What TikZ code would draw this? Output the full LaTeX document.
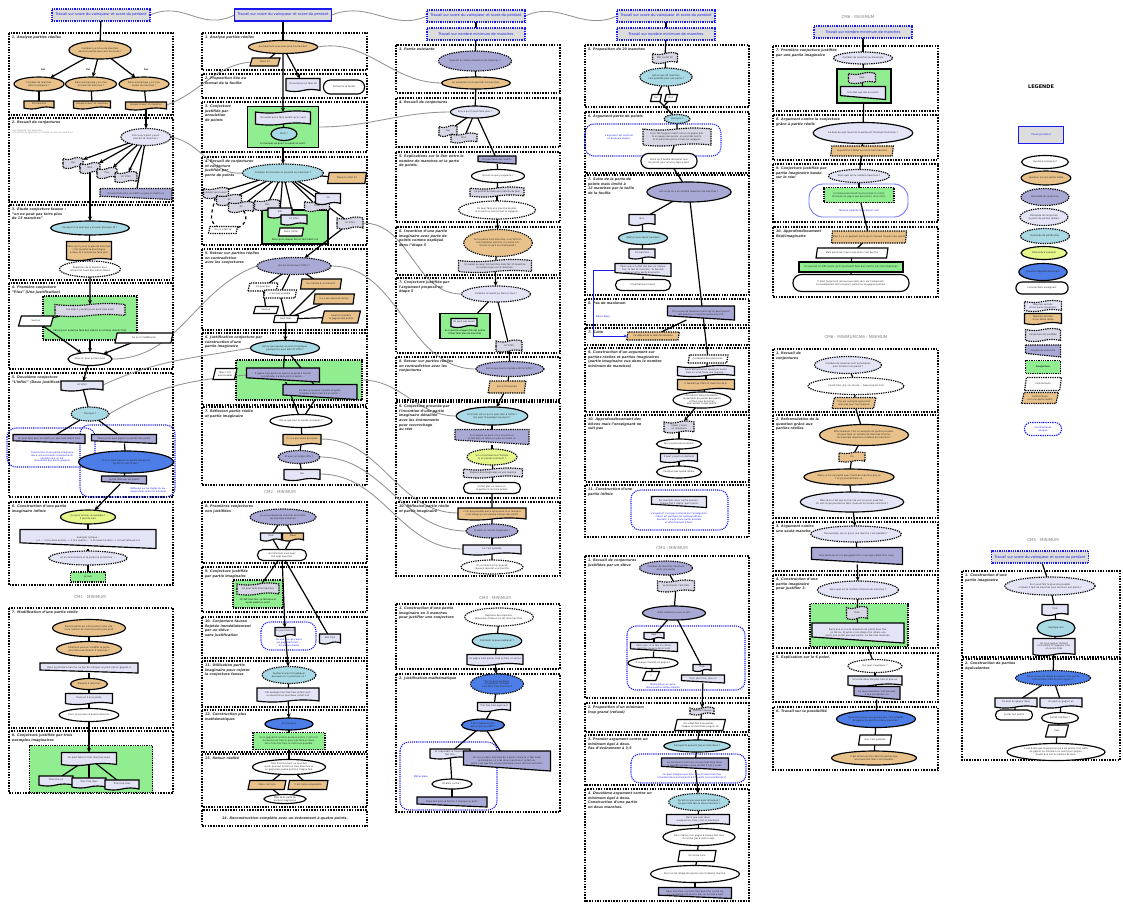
\documentclass[tikz,border=0pt]{standalone}
\usepackage{fontspec}
\setmainfont{DejaVu Sans}
\usetikzlibrary{shapes.geometric,shapes.symbols,shapes.misc,arrows.meta}
\definecolor{ctan}{HTML}{E8C28A}
\definecolor{cperi}{HTML}{A9A9D6}
\definecolor{clav}{HTML}{E4E4F7}
\definecolor{cgl}{HTML}{D7D7E6}
\definecolor{clblue}{HTML}{A9D9E4}
\definecolor{cylw}{HTML}{E6F78C}
\definecolor{crblue}{HTML}{4D7DE6}
\definecolor{cgreen}{HTML}{90EE90}
\definecolor{ctop}{HTML}{DCDCDC}
\definecolor{cbl}{HTML}{1A1AEE}
\definecolor{ctitle}{HTML}{333333}
\pgfdeclarelayer{back}
\pgfdeclarelayer{mid}
\pgfsetlayers{back,mid,main}
\makeatletter
\pgfdeclareshape{slantbox}{%
  \inheritsavedanchors[from=rectangle]%
  \inheritanchorborder[from=rectangle]%
  \inheritanchor[from=rectangle]{center}%
  \inheritanchor[from=rectangle]{north}%
  \inheritanchor[from=rectangle]{south}%
  \inheritanchor[from=rectangle]{east}%
  \inheritanchor[from=rectangle]{west}%
  \inheritanchor[from=rectangle]{north east}%
  \inheritanchor[from=rectangle]{north west}%
  \inheritanchor[from=rectangle]{south east}%
  \inheritanchor[from=rectangle]{south west}%
  \inheritanchor[from=rectangle]{text}%
  \inheritanchor[from=rectangle]{base}%
  \inheritanchor[from=rectangle]{mid}%
  \backgroundpath{%
    \southwest \pgf@xa=\pgf@x \pgf@ya=\pgf@y
    \northeast \pgf@xb=\pgf@x \pgf@yb=\pgf@y
    \pgf@yc=\pgf@yb \advance\pgf@yc by -\pgf@ya
    \pgf@yc=0.3\pgf@yc \advance\pgf@yc by \pgf@ya
    \pgfpathmoveto{\pgfqpoint{\pgf@xa}{\pgf@yb}}%
    \pgfpathlineto{\pgfqpoint{\pgf@xb}{\pgf@yb}}%
    \pgfpathlineto{\pgfqpoint{\pgf@xb}{\pgf@ya}}%
    \pgfpathlineto{\pgfqpoint{\pgf@xa}{\pgf@yc}}%
    \pgfpathclose
  }%
}
\makeatother
\newcommand\txs{\fontsize{2.3}{2.75}\selectfont}
\newcommand\ttls{\fontsize{3.4}{4.6}\selectfont\bfseries\itshape}
\newcommand\tps{\fontsize{3.6}{4.4}\selectfont}
\tikzset{
 every node/.style={font=\txs, align=center, inner sep=0.4pt, outer sep=0pt, text=black!85},
 sz/.style 2 args={minimum width=#1pt, minimum height=#2pt},
 bx/.style={draw=black, line width=1.15pt},
 dts/.style={dash pattern=on 1.3pt off 1pt},
 qens/.style={bx, ellipse, fill=white},
 qensd/.style={bx, dts, ellipse, fill=white},
 qreal/.style={bx, ellipse, fill=ctan},
 qreald/.style={bx, dts, ellipse, fill=ctan},
 dconj/.style={bx, dts, ellipse, fill=cperi},
 dconjs/.style={bx, ellipse, fill=cperi},
 dconjr/.style={bx, dts, ellipse, fill=clav},
 dconjrs/.style={bx, ellipse, fill=clav},
 djust/.style={bx, dts, ellipse, fill=clblue},
 djusts/.style={bx, ellipse, fill=clblue},
 dex/.style={bx, ellipse, fill=cylw},
 dexd/.style={bx, dts, ellipse, fill=cylw},
 qapp/.style={bx, ellipse, fill=crblue},
 qappd/.style={bx, dts, ellipse, fill=crblue},
 cens/.style={bx, rounded rectangle, fill=white},
 docL/.style={bx, tape, tape bend top=none, tape bend height=2pt, fill=clav},
 docT/.style={bx, tape, tape bend top=none, tape bend height=2pt, fill=ctan},
 tapeC/.style={bx, dts, tape, tape bend height=2pt, fill=cgl},
 tapeL/.style={bx, tape, tape bend height=2pt, fill=clav},
 tapeT/.style={bx, dts, tape, tape bend height=1.5pt, fill=ctan},
 slP/.style={bx, slantbox, fill=cperi},
 slPd/.style={bx, dts, slantbox, fill=cperi},
 slL/.style={bx, slantbox, fill=clav},
 conj/.style={bx, dts, rectangle, fill=cgreen},
 conjs/.style={bx, rectangle, fill=cgreen},
 para/.style={bx, trapezium, trapezium left angle=70, trapezium right angle=110, trapezium stretches=true},
 comW/.style={para, fill=white},
 comWd/.style={para, dts, fill=white},
 comT/.style={para, fill=ctan},
 comTd/.style={para, dts, fill=ctan},
 topd/.style={draw=cbl, line width=1.1pt, dash pattern=on 1pt off 0.8pt, fill=ctop, text=cbl, font=\tps, inner sep=1pt},
 tops/.style={draw=cbl, line width=1.5pt, fill=ctop, text=cbl, font=\tps, inner sep=1pt},
 sec/.style={draw=black, line width=1.2pt, dash pattern=on 1.5pt off 1.2pt},
 ttl/.style={anchor=north west, align=left, font=\ttls, text=ctitle, inner sep=0pt},
 gtext/.style={font=\txs, text=black},
 anatext/.style={font=\txs, text=cbl},
 anabox/.style={draw=cbl, line width=1.1pt, dash pattern=on 1.1pt off 1pt, rounded corners=9pt},
 anabox2/.style={draw=cbl!60, line width=0.9pt, rounded corners=14pt},
 cmlbl/.style={font=\fontsize{4}{5}\selectfont, text=gray},
 lbl/.style={font=\fontsize{2.3}{2.8}\selectfont\bfseries},
 conn/.style={draw=black, line width=1.2pt},
 arr/.style={conn, -{Stealth[length=4.5pt, width=4pt]}},
 gc/.style={draw=gray!85, line width=0.85pt},
 notet/.style={anchor=north west, align=left, text=gray, font=\fontsize{2.2}{2.7}\selectfont},
}
\begin{document}
\begin{tikzpicture}[x=1pt,y=-1pt]
\useasboundingbox (0,0) rectangle (1123,903);
\begin{pgfonlayer}{back}
\fill[white] (0,0) rectangle (1123,903);
% ---------- col 1 sections
\draw[sec] (9,33) rectangle (173,115);
\draw[sec] (9,118) rectangle (173,202);
\draw[sec] (9,205) rectangle (173,280);
\draw[sec] (9,283) rectangle (173,369);
\draw[sec] (9,373) rectangle (173,497);
\draw[sec] (9,502) rectangle (173,585);
\draw[sec] (9,608) rectangle (173,728);
\draw[sec] (9,731) rectangle (173,793);
% ---------- col 2 sections
\draw[sec] (202,33) rectangle (367,70);
\draw[sec] (202,74) rectangle (367,98);
\draw[sec] (202,102) rectangle (367,152);
\draw[sec] (202,157) rectangle (367,245);
\draw[sec] (202,249) rectangle (367,330);
\draw[sec] (202,333) rectangle (367,405);
\draw[sec] (202,407) rectangle (367,485);
\draw[sec] (202,502) rectangle (367,563);
\draw[sec] (202,567) rectangle (367,612);
\draw[sec] (202,617) rectangle (367,658);
\draw[sec] (202,661) rectangle (367,707);
\draw[sec] (202,710) rectangle (367,752);
\draw[sec] (202,754) rectangle (367,807);
\draw[sec] (202,810) rectangle (367,826);
% ---------- col 3 sections
\draw[sec] (396,45) rectangle (560,93);
\draw[sec] (396,98) rectangle (560,147);
\draw[sec] (396,152) rectangle (560,222);
\draw[sec] (396,227) rectangle (560,275);
\draw[sec] (396,278) rectangle (560,353);
\draw[sec] (396,357) rectangle (560,400);
\draw[sec] (396,402) rectangle (560,498);
\draw[sec] (396,502) rectangle (560,576);
\draw[sec] (396,604) rectangle (560,669);
\draw[sec] (396,674) rectangle (560,812);
% ---------- col 4 sections
\draw[sec] (585,45) rectangle (749,107);
\draw[sec] (585,112) rectangle (749,173);
\draw[sec] (585,175) rectangle (749,295);
\draw[sec] (585,299) rectangle (749,325);
\draw[sec] (585,328) rectangle (749,345);
\draw[sec] (585,348) rectangle (749,412);
\draw[sec] (585,415) rectangle (749,482);
\draw[sec] (585,485) rectangle (749,537);
\draw[sec] (585,556) rectangle (749,698);
\draw[sec] (585,703) rectangle (749,732);
\draw[sec] (585,735) rectangle (749,785);
\draw[sec] (585,789) rectangle (749,901);
% ---------- col 5 sections
\draw[sec] (773,46) rectangle (938,111);
\draw[sec] (773,115) rectangle (938,160);
\draw[sec] (773,164) rectangle (938,222);
\draw[sec] (773,227) rectangle (938,297);
\draw[sec] (773,349) rectangle (938,412);
\draw[sec] (773,415) rectangle (938,518);
\draw[sec] (773,522) rectangle (938,571);
\draw[sec] (773,575) rectangle (938,648);
\draw[sec] (773,653) rectangle (938,702);
\draw[sec] (773,707) rectangle (938,770);
% ---------- col 6 sections
\draw[sec] (962,571) rectangle (1120,657);
\draw[sec] (962,659) rectangle (1120,760);
% ---------- containers
\node[conj, sz={94}{44}] (c1s4g) at (90,318) {};
\draw[anabox] (7,428) rectangle (95,467);
\draw[anabox] (80,425) rectangle (175,497);
\node[conj, sz={123}{47}] (c1s8g) at (91,769) {};
\node[conjs, sz={71}{41}] (c2s3g) at (283,127) {};
\node[conjs, sz={66}{34}] (c2s4g) at (295,227) {};
\node[conj, sz={126}{40}] (c2s6g) at (299,380) {};
\node[conj, sz={50}{28}] (c2s9g) at (258,594) {};
\draw[anabox] (261,622) rectangle (316,650);
\node[conjs, sz={50}{25}] (c3s7g) at (465,326) {};
\draw[anabox] (400,742) rectangle (497,810);
\draw[anabox] (585,124) rectangle (721,156);
\draw[anabox] (631,490) rectangle (728,530);
\draw[anabox] (627,626) rectangle (745,690);
\draw[anabox] (631,754) rectangle (746,783);
\node[conjs, sz={54}{34}] (c5s7g) at (864,86) {};
\draw[anabox2] (809,184) rectangle (908,217);
\node[conj, sz={98}{43}] (c5m11g) at (859,625) {};
\end{pgfonlayer}

% =================== TOP BOXES ===================
\node[topd, sz={98}{12}] (c1top) at (101,15) {Travail sur score du vainqueur et score du perdant};
\node[tops, sz={97}{12}] (c2top) at (283,15) {Travail sur score du vainqueur et score du perdant};
\node[topd, sz={98}{12}] (c3top1) at (476,16) {Travail sur score du vainqueur et score du perdant};
\node[topd, sz={98}{12}] (c3top2) at (476,34) {Travail sur nombre minimum de manches};
\node[topd, sz={98}{12}] (c4top1) at (666,16) {Travail sur score du vainqueur et score du perdant};
\node[topd, sz={98}{12}] (c4top2) at (666,34) {Travail sur nombre minimum de manches};
\node[topd, sz={98}{12}] (c5top) at (863,32) {Travail sur nombre minimum de manches};
\node[topd, sz={97}{12}] (c6top) at (1040,557) {Travail sur score du vainqueur et score du perdant};

% =================== COLUMN 1 ===================
\node[ttl] (c1t1) at (12,36) {1. Analyse parties réelles};
\node[qreal, sz={59}{18}] (c1q1) at (100,50) {Combien y a-t-il eu de manches\\dans les parties que vous avez joué ?};
\node[qreal, sz={50}{14}] (c1q2) at (39,84) {Combien de manches\\dans le groupe 2 ?};
\node[qreal, sz={51}{14}] (c1q3) at (91,84) {Dans quel groupe y a-t-il eu\\le moins de manches ?};
\node[qreal, sz={50}{14}] (c1q4) at (144,84) {Dans quel groupe y a-t-il eu\\le plus de manches ?};
\node[lbl] (c1o1) at (43,70) {Oui};
\node[lbl] (c1o2) at (88,70) {Oui};
\node[lbl] (c1o3) at (146,70) {Oui};
\node[docT, sz={30}{8}] (c1r2) at (39,104) {10 manches};
\node[docT, sz={37}{8}] (c1r3) at (92,104) {Groupe 6 avec 11 manches};
\node[docT, sz={41}{8}] (c1r4) at (146,105) {Groupe 8 avec 15 manches};

\node[ttl] (c1t2) at (12,121) {2. Recueil de conjectures};
\node[notet] (c1n2) at (12,129) {Une réponse non explorée :\\"On aurait pu faire plus un match un plus un match un"};
\node[dconjr, sz={50}{17}] (c1s2q) at (146,137) {Est-ce qu'il peut y avoir\\plus de 15 manches ?};
\node[tapeC, sz={20}{11}] (c1a) at (73,163) {Oui};
\node[tapeC, sz={20}{11}] (c1b) at (90,168) {Non};
\node[tapeC, sz={20}{11}] (c1c) at (107,173) {Plus};
\node[tapeC, sz={22}{11}] (c1d) at (126,177) {A l'infini};
\node[slPd, sz={72}{11}] (c1e) at (136,194) {On peut faire plus un match un plus un match un};

\node[ttl] (c1t3) at (12,208) {3. Etude conjecture fausse :\\"on ne peut pas faire plus\\de 15 manches"};
\node[djusts, sz={72}{14}] (c1s3q) at (90,228) {Pourquoi il ne peut pas y en avoir plus que 15 ?};
\node[docT, sz={45}{19}] (c1s3d) at (89,250) {Parce qu'il y a eu le plus de manches\\c'est la partie la plus longue\\à deux ils n'ont pas pu faire plus};
\node[qensd, sz={61}{16}] (c1s3c) at (90,269) {Répétition de la réponse pour\\rechercher l'avis des autres élèves};

\node[ttl] (c1t4) at (12,286) {4. Première conjecture\\"Plus" (Une justification)};
\node[tapeC, sz={70}{13}] (c1s4t) at (90,310) {Oui mais il y aurait pu en avoir plus aussi};
\node[gtext] (c1s4x) at (90,331) {Parce qu'on aurait pu faire des matchs un et deux matchs trois};
\node[comW, sz={35}{10}] (c1s4s) at (36,321) {Sauf un};
\node[comW, sz={58}{10}] (c1s4o) at (144,338) {Ou si on l'additionne};
\node[qens, sz={43}{13}] (c1s4e) at (90,359) {Alors on peut en faire plus};

\node[ttl] (c1t5) at (12,376) {5. Deuxième conjecture\\"L'infini" (Deux justifications)};
\node[docL, sz={42}{10}] (c1s5a) at (82,385) {A l'infini};
\node[djust, sz={38}{14}] (c1s5q) at (90,414) {Pourquoi ?};
\node[slP, sz={72}{9}] (c1s5l) at (49,439) {On peut faire pour un match un, plus trois match trois};
\node[slP, sz={65}{9}] (c1s5r) at (124,439) {Parce qu'on peut gagner ou perdre des points};
\node[anatext] (c1s5x) at (52,457) {Construction d'une partie imaginaire\\liée à une succession d'événements\\orientés vers un but\\(annulation des points gagnés)};
\node[qapp, sz={95}{22}] (c1s5b) at (126,462) {Et si on peut gagner ou perdre des points\\qu'est-ce que ça fait ?};
\node[slP, sz={45}{8}] (c1s5d) at (124,480) {Ça fait diminuer les points};
\node[anatext] (c1s5y) at (148,490) {Réflexion sur les règles du jeu\\rapprochées grâce à l'exemple};

\node[ttl] (c1t6) at (12,505) {6. Construction d'une partie\\imaginaire infinie};
\node[dex, sz={55}{14}] (c1s6q) at (88,517) {Qui peut donner un exemple ?\\Il part du zéro};
\node[slL, sz={136}{19}] (c1s6e) at (88,539) {Exemple cyclique :\\+ 0 ; -- 3 (il a deux points) ; + 3 (il a quatre) ; -- 3 (il revient à zéro) ; + 3 il est retrouvé à 4};
\node[dconjr, sz={71}{14}] (c1s6o) at (88,558) {Et on recommence et la partie ne se termine ...};
\node[conj, sz={35}{10}] (c1s6j) at (88,577) {Jamais};

\node[cmlbl] (cm1) at (90,597) {CM1 - MINIMUM};
\node[ttl] (c1t7) at (12,611) {7. Modification d'une partie réelle};
\node[qreal, sz={73}{17}] (c1s7a) at (89,628) {Dans la partie qui a été jouée le plus vite,\\où le nombre de manches est le plus petit};
\node[qreal, sz={65}{15}] (c1s7b) at (89,649) {Comment peut-on modifier la partie\\pour faire exactement 5 manches ?};
\node[slL, sz={98}{10}] (c1s7c) at (89,668) {Dans la première manche, au lieu de marquer un point elle en gagnait 4};
\node[qreal, sz={37}{11}] (c1s7d) at (89,684) {Toujours 4 manches};
\node[docL, sz={47}{11}] (c1s7e) at (89,698) {Dans un il en a perdu};
\node[qens, sz={55}{13}] (c1s7f) at (89,715) {Donc ça se joue en quatre manches};

\node[ttl] (c1t8) at (12,734) {8. Conjecture justifiée par trois\\exemples imaginaires};
\node[docL, sz={55}{13}] (c1s8t) at (89,758) {On peut faire en trois manches aussi};
\node[docL, sz={34}{10}] (c1s8a) at (56,780) {Trois trois un};
\node[docL, sz={34}{10}] (c1s8b) at (89,782) {Trois trois deux};
\node[docL, sz={34}{10}] (c1s8c) at (122,784) {Trois trois trois};

% =================== COLUMN 2 ===================
\node[ttl] (c2t1) at (205,36) {1. Analyse parties réelles};
\node[qreal, sz={64}{13}] (c2s1e) at (283,47) {Au maximum vous avez joué 14 manches};
\node[comT, sz={30}{8}] (c2s1n) at (265,62) {Nous 13};
\node[ttl] (c2t2) at (205,77) {2. Proposition liée au\\format de la feuille};
\node[docL, sz={34}{13}] (c2s2d) at (303,84) {On aurait pu en faire 18};
\node[cens, sz={42}{14}] (c2s2f) at (344,87) {Format de la feuille};
\node[ttl] (c2t3) at (205,105) {3. Conjecture\\justifiée par\\annulation\\de points};
\node[tapeL, sz={55}{14}] (c2s3t) at (283,118) {On aurait pu en faire autant qu'on veut};
\node[djusts, sz={26}{13}] (c2s3q) at (284,134) {Alors ?};
\node[gtext] (c2s3x) at (283,144) {Tu marques un point, tu perds un point.};

\node[ttl] (c2t4) at (205,160) {4. Recueil de conjectures\\et conjecture\\justifiée par\\perte de points};
\node[djust, sz={73}{18}] (c2s4e) at (283,173) {Combien de manches on pourrait au maximum ?};
\node[comT, sz={39}{11}] (c2s4n) at (347,178) {Nous on a fait 13};
\node[tapeC, sz={25}{11}] (c2s4a) at (216,193) {Autant qu'on veut};
\node[tapeC, sz={25}{11}] (c2s4b) at (229,200) {30};
\node[tapeC, sz={25}{11}] (c2s4c) at (241,207) {40};
\node[tapeC, sz={25}{11}] (c2s4d) at (267,205) {100};
\node[docL, sz={24}{10}] (c2s4e1) at (280,212) {200};
\node[docL, sz={26}{10}] (c2s4f) at (294,219) {A l'infini};
\node[comW, sz={25}{8}] (c2s4h) at (291,232) {Pas à l'infini};
\node[gtext] (c2s4x) at (295,240) {Parce qu'à chaque fois on fait match nul};
\node[tapeC, sz={25}{11}] (c2s4i) at (317,206) {1000};
\node[docL, sz={25}{11}] (c2s4j) at (328,198) {50};
\node[tapeC, sz={26}{12}] (c2s4k) at (350,223) {A l'infini};
\node[comWd, sz={29}{7}] (c2s4l) at (223,230) {On en a fait 14};

\node[ttl] (c2t5) at (205,252) {5. Retour sur parties réelles\\en contradiction\\avec les conjectures};
\node[dconj, sz={74}{17}] (c2s5e) at (294,266) {Qui est arrivé avec l'infini ?};
\node[comWd, sz={30}{8}] (c2s5a) at (263,287) {On peut pas};
\node[comWd, sz={33}{8}] (c2s5b) at (280,294) {C'est pas possible};
\node[comT, sz={41}{10}] (c2s5c) at (321,284) {Ça s'arrête à un moment};
\node[comT, sz={41}{10}] (c2s5d) at (334,299) {Il y a pas assez de temps};
\node[comT, sz={39}{12}] (c2s5f) at (341,317) {Quand tu tombes\\tu gagnes des points};
\node[comW, sz={25}{7}] (c2s5g) at (266,310) {Sauf un};
\node[comW, sz={25}{7}] (c2s5h) at (286,319) {Sauf deux};

\node[ttl] (c2t6) at (205,336) {6. Justification conjecture par\\construction d'une\\partie imaginaire};
\node[djusts, sz={69}{15}] (c2s6e) at (285,348) {Est-ce que quelqu'un peut m'expliquer\\pourquoi on peut aller à l'infini ?};
\node[comW, sz={24}{11}] (c2s6m) at (225,374) {Mais c'est\\pas possible};
\node[slP, sz={73}{14}] (c2s6a) at (283,375) {Il gagne trois points en éperon et après il touche\\le contexte, il a zéro point et après ...};
\node[slP, sz={74}{15}] (c2s6b) at (320,392) {En fait ça toujours 3 points et après\\il tombe à zéro mais il a un point ...};

\node[ttl] (c2t7) at (205,410) {7. Réflexion partie réelle\\et partie imaginaire};
\node[qens, sz={55}{13}] (c2s7e) at (301,421) {Est-ce que tout le monde a compris ?};
\node[docT, sz={38}{11}] (c2s7d) at (302,439) {Il n'y a pas assez de temps};
\node[dconj, sz={42}{13}] (c2s7q) at (299,457) {Et avec un temps infini ?};
\node[docL, sz={36}{11}] (c2s7o) at (302,474) {Oui};

\node[cmlbl] (cm2) at (280,492) {CM2 - MINIMUM};
\node[ttl] (c2t8) at (205,505) {8. Premières conjectures\\non justifiées};
\node[dconj, sz={66}{16}] (c2s8e) at (283,517) {Je vous propose de chercher le nombre\\de manches minimum};
\node[docL, sz={21}{8}] (c2s8a) at (271,536) {Trois};
\node[docT, sz={21}{8}] (c2s8b) at (293,536) {Deux};
\node[cens, sz={50}{11}] (c2s8c) at (282,555) {Au minimum vous avez\\fait sept manches};
\node[ttl] (c2t9) at (205,570) {9. Conjecture justifiée\\par partie imaginaire};
\node[tapeC, sz={42}{12}] (c2s9t) at (258,589) {On peut faire trois manches};
\node[gtext] (c2s9x) at (258,601) {On fait trois fois, ça fait deux et\\après passé un point};
\node[ttl] (c2t10) at (205,620) {10. Conjecture fausse\\Rejetée immédiatement\\par un élève\\sans justification};
\node[docL, sz={20}{9}] (c2s10a) at (285,631) {On peut faire un};
\node[anatext] (c2s10x) at (289,643) {On voit à un de l'autre\\qui gagnerait point ...\\les parties réelles};
\node[docL, sz={21}{10}] (c2s10b) at (330,638) {Non trois};
\node[ttl] (c2t11) at (205,664) {11. Utilisation partie\\imaginaire pour rejeter\\la conjecture fausse};
\node[djust, sz={54}{17}] (c2s11e) at (289,675) {Quelqu'un peut m'expliquer\\pourquoi on n'y peut pas un ?};
\node[docL, sz={62}{14}] (c2s11d) at (288,694) {Par exemple trois fois trois ça fait neuf,\\ou deux fois un plus deux ça fait huit};
\node[ttl] (c2t12) at (205,713) {12. Construction plus\\mathématiques};
\node[qapp, sz={48}{12}] (c2s12e) at (289,724) {En classique};
\node[conj, sz={72}{17}] (c2s12g) at (289,741) {Si on gagnait le nombre de deux points, c'est trois.\\Au dessus de trois tu peux pas faire en deux.\\Donc trois fois trois, le minimum possible.};
\node[ttl] (c2t13) at (205,757) {13. Retour réalité};
\node[qens, sz={73}{15}] (c2s13e) at (289,767) {Trois fois trois huit, ça veut dire\\qu'on pourrait le faire en trois manches et\\on gagnerait quatre points à chaque fois.};
\node[comT, sz={38}{9}] (c2s13a) at (267,785) {Mais c'est rare};
\node[comT, sz={40}{9}] (c2s13b) at (308,785) {C'est même impossible};
\node[qens, sz={42}{9}] (c2s13c) at (285,799) {Mais là on parle de\\parties imaginaires};
\node[ttl, anchor=center] (c2t14) at (285,818) {14. Reconstruction complète avec un événement à quatre points.};

% =================== COLUMN 3 ===================
\node[ttl] (c3t3) at (399,48) {3. Partie existante};
\node[dconj, sz={64}{20}] (c3s3e) at (475,61) {Quel est le nombre maximum de manches ?};
\node[qreal, sz={65}{12}] (c3s3t) at (476,83) {Au maximum vous avez fait 14 manches.};
\node[ttl] (c3t4) at (399,101) {4. Recueil de conjectures};
\node[dconjrs, sz={49}{12}] (c3s4e) at (475,112) {Est-ce qu'on peut faire plus ?};
\node[tapeC, sz={18}{11}] (c3s4a) at (448,131) {Oui};
\node[tapeC, sz={26}{10}] (c3s4b) at (464,138) {Non};
\node[ttl] (c3t5) at (399,155) {5. Explications sur le lien entre le\\nombre de manches et la perte\\de points.};
\node[slP, sz={38}{8}] (c3s5s) at (497,160) {On peut faire des matchs};
\node[qens, sz={53}{13}] (c3s5q) at (498,176) {Qu'est-ce que ça apporte ?};
\node[tapeC, sz={54}{10}] (c3s5t) at (497,192) {Ça permet de faire une manche de plus};
\node[qensd, sz={77}{18}] (c3s5c) at (497,210) {On peut faire une manche de plus,\\si on perd un point il faut le regagner.};
\node[ttl] (c3t6) at (399,230) {6. Invention d'une partie\\imaginaire avec perte de\\points comme expliqué\\dans l'étape 5};
\node[qreald, sz={68}{27}] (c3s6e) at (498,243) {Sur la partie à 14 manches, si on fait 2-0,\\à la troisième manche, il y aurait 0-0.\\Qu'est-ce qu'il se serait passé ?};
\node[tapeC, sz={73}{13}] (c3s6t) at (495,266) {On aurait pu avoir 14 manches mais fait 15 manches\\on serait revenu à 15 manches.};
\node[ttl] (c3t7) at (399,281) {7. Conjecture justifiée par\\l'argument proposé en\\étape 5};
\node[dconjr, sz={69}{16}] (c3s7e) at (496,294) {Combien on aurait pu faire en tout ?};
\node[docL, sz={26}{9}] (c3s7d) at (464,322) {On peut pas savoir};
\node[gtext] (c3s7x) at (465,332) {Si on perd à chaque fois des points\\il faut faire plus de manches};
\node[tapeC, sz={26}{12}] (c3s7t) at (509,346) {A l'infini};
\node[ttl] (c3t8) at (399,360) {8. Retour sur parties réelles\\en contradiction avec les\\conjectures};
\node[dconj, sz={60}{15}] (c3s8e) at (510,369) {Est-ce que tout le monde a fini à l'infini ?};
\node[comTd, sz={38}{12}] (c3s8c) at (507,387) {Ça ne finit jamais};
\node[ttl] (c3t9) at (399,405) {9. Conjecture prouvée par\\l'invention d'une partie\\imaginaire détaillée\\avec les événements\\pour raccrochage\\au réel};
\node[djusts, sz={68}{18}] (c3s9e) at (492,416) {Comment est-ce qu'on peut aller à l'infini ?\\Qui peut m'expliquer pourquoi ?};
\node[slPd, sz={74}{15}] (c3s9s) at (492,437) {Si on gagne un point et on en perd un,\\ça fait plus un moins un plus un moins un};
\node[dexd, sz={50}{16}] (c3s9y) at (492,457) {Si tu recommences l'histoire\\tu en passes comment ?};
\node[tapeC, sz={59}{10}] (c3s9t) at (493,473) {Toujours plus longtemps en une manche};
\node[cens, sz={58}{11}] (c3s9c) at (492,488) {Ça fait plus un moins un,\\la partie ne termine jamais};
\node[ttl] (c3t10) at (399,505) {10. Réflexion partie réelle\\et partie imaginaire};
\node[docT, sz={68}{12}] (c3s10d) at (492,513) {C'est pas possible parce qu'au bout d'un moment\\c'est obligé qu'une équipe marque des points};
\node[dconj, sz={48}{14}] (c3s10q) at (492,531) {Et dans un monde imaginaire ?};
\node[docL, sz={58}{10}] (c3s10o) at (492,549) {Là c'est possible};
\node[qensd, sz={62}{14}] (c3s10c) at (492,567) {On a montré qu'on pouvait\\toujours rajouter une manche};
\node[cmlbl] (cm3) at (495,598) {CM3 - MINIMUM};
\node[ttl] (c3u1) at (399,607) {1. Construction d'une partie\\imaginaire en 3 manches\\pour justifier une conjecture};
\node[qensd, sz={66}{18}] (c3c1) at (499,617) {Reprenez des réponses.\\Beaucoup d'élèves ont dit trois manches.};
\node[djusts, sz={49}{15}] (c3c2) at (497,641) {Comment tu peux expliquer ?};
\node[docL, sz={56}{11}] (c3c3) at (495,659) {On gagne trois points, trois et trois, on arrive};
\node[ttl] (c3u2) at (399,677) {2. Justification mathématique};
\node[qappd, sz={53}{20}] (c3m1) at (497,684) {Qui ne peut expliquer\\m'expliquer pourquoi\\c'est faire trois manches ?};
\node[docL, sz={33}{9}] (c3m2) at (494,706) {Trois fois trois égal neuf};
\node[qapp, sz={43}{12}] (c3m3) at (483,725) {Il faut expliquer plus.\\Est-ce que ça suffit ?};
\node[docL, sz={40}{10}] (c3m4) at (450,753) {Et cependant la troisième\\fait cinq};
\node[slP, sz={87}{20}] (c3m5) at (507,761) {En une ou deux manches de 3 points chacune, il faut aussi\\le troisième, on a les deux manches et ça fait six.\\Donc c'est pas fini, on peut pas faire moins de trois manches.};
\node[anatext] (c3m6) at (421,777) {Même élève};
\node[qens, sz={40}{10}] (c3m7) at (452,784) {Et alors ça fait ?};
\node[slP, sz={70}{10}] (c3m8) at (452,802) {Deux fois trois ça fait six, il manque un point};

% =================== COLUMN 4 ===================
\node[ttl] (c4t5) at (588,48) {5. Proposition de 20 manches};
\node[tapeC, sz={25}{11}] (c4s5t) at (665,58) {Moi j'ai dit 20};
\node[djust, sz={50}{18}] (c4s5e) at (666,77) {Est-ce que 20 manches\\c'est possible pour une partie ?};
\node[comW, sz={11}{7}] (c4s5o) at (656,98) {Oui};
\node[comW, sz={13}{7}] (c4s5n) at (671,98) {Non};
\coordinate (c4j) at (664,106);
\node[ttl] (c4t6) at (588,115) {6. Argument perte de points};
\node[djust, sz={26}{9}] (c4s6e) at (677,119) {Pourquoi ?};
\node[anatext] (c4s6x) at (619,137) {L'argument est construit\\en plusieurs étapes.};
\node[tapeC, sz={68}{18}] (c4s6t) at (677,137) {Si on fait toujours match nul on ne gagne pas.\\Si on gagne des points, on perd des points.\\Si on perd des points, il faut les regagner.};
\node[cens, sz={57}{15}] (c4s6c) at (669,161) {Parce qu'il faudra récupérer tous\\les points pour arriver jusqu'à sept.};
\node[ttl] (c4t7) at (588,178) {7. Suite de la perte de\\points mais limité à\\12 manches par la taille\\de la feuille};
\node[dconjs, sz={71}{20}] (c4s7e) at (689,192) {Est-ce qu'on a un nombre maximum de manches ?};
\node[docL, sz={26}{11}] (c4s7n) at (642,219) {Non};
\node[djusts, sz={49}{13}] (c4s7q) at (643,238) {Mais je veux savoir pourquoi};
\node[docL, sz={26}{10}] (c4s7d) at (642,253) {12 manches};
\node[slL, sz={56}{13}] (c4s7s) at (643,270) {Parce que si tu fais des plus un chaque\\fois, tu fais 12 manches. Tu fais des\\plus un et tu perds des points.};
\node[cens, sz={56}{11}] (c4s7c) at (643,285) {Il faudrait pour savoir};
\node[ttl] (c4t8) at (588,302) {8. Pas de maximum};
\node[slP, sz={67}{14}] (c4s8s) at (701,313) {Il n'y a pas de maximum parce qu'on peut gagner\\des points ou n'importe quelle manche.};
\node[anatext] (c4s8x) at (603,317) {Même élève};
\node[ttl] (c4t7b) at (588,331) {7. Suite};
\node[comTd, sz={53}{8}] (c4s7b) at (653,336) {Ça dépend de la taille de la feuille};
\node[ttl] (c4t9) at (588,351) {9. Construction d'un argument sur\\parties réelles et parties imaginaires\\(partie imaginaire vue dans le nombre\\minimum de manches)};
\node[comWd, sz={40}{8}] (c4s9c) at (708,359) {Ça dépend des personnes.};
\node[tapeL, sz={57}{11}] (c4s9t) at (706,371) {Nous personnes on savait par avant\\mais on a fait toute une manche ...};
\node[docT, sz={57}{11}] (c4s9d) at (706,384) {Il faudrait qu'il fait 11 manches de 4.};
\node[qens, sz={58}{16}] (c4s9e) at (702,400) {On rejoint l'idée précédente.\\Ils auraient pu perdre des points\\et faire plus de temps\\pour arriver à sept points.};
\node[ttl] (c4t10) at (588,418) {10. Approfondissement des\\élèves mais l'enseignant ne\\suit pas};
\node[tapeC, sz={30}{12}] (c4s10t) at (679,427) {Il peut y avoir\\un maximum};
\node[qens, sz={45}{10}] (c4s10e) at (679,444) {Moi ça peut pas le même};
\node[docL, sz={37}{9}] (c4s10d) at (679,457) {Il peut y avoir un obstacle};
\node[qens, sz={45}{12}] (c4s10f) at (679,472) {Pourquoi pas quand même};
\node[ttl] (c4t11) at (588,488) {11. Construction d'une\\partie infinie};
\node[slL, sz={55}{11}] (c4s11s) at (679,502) {Par exemple, deux contre joueurs :\\Chaque fois il gagne, puis il perd.};
\node[anatext] (c4s11x) at (679,518) {L'argument n'est pas contesté par l'enseignante\\mais il est expliqué par quelques élèves.\\Pourtant, il s'agit d'une partie possible\\et effectivement infinie.};
\node[cmlbl] (cm4) at (672,548) {CM4 - MINIMUM};
\node[ttl] (c4u1) at (588,559) {1. Recueil de conjectures\\justifiées par un élève};
\node[dconj, sz={47}{14}] (c4m1) at (666,568) {Combien de manches minimum\\dans une partie};
\node[tapeC, sz={37}{12}] (c4m2) at (676,586) {Le minimum c'est trois};
\node[dconjs, sz={63}{14}] (c4m3) at (674,613) {Alors d'abord je veux la voir.};
\node[docL, sz={20}{7}] (c4m4) at (654,635) {Sept};
\node[slL, sz={47}{9}] (c4m5) at (654,647) {Parce que, si tu fais un virtuel,\\sept fois ça aura donné sept};
\node[qens, sz={50}{11}] (c4m6) at (653,663) {A chaque manche on gagne ?};
\node[comW, sz={17}{9}] (c4m7) at (651,676) {1};
\node[anatext] (c4m8) at (663,686) {Même élève, un autre\\élève avait la même réponse};
\node[docL, sz={18}{7}] (c4m9) at (702,667) {Trois};
\node[slL, sz={43}{8}] (c4m10) at (703,679) {Trois, plus trois, plus un};
\node[ttl] (c4u2) at (588,706) {2. Proposition d'un minimum\\trop grand (refusé)};
\node[tapeC, sz={24}{8}] (c4m11) at (702,711) {Minimum douze};
\node[comW, sz={51}{11}] (c4m12) at (700,725) {On a déjà fait trois parties ...\\Chaque on peut faire jusqu'à 12};
\node[ttl] (c4u3) at (588,738) {3. Premier argument contre un\\minimum égal à deux.\\Pas d'événement à 3,5};
\node[djusts, sz={48}{12}] (c4m13) at (697,746) {Pourquoi ils peuvent pas en faire deux ?};
\node[slP, sz={67}{12}] (c4m14) at (695,764) {Le minimum c'est trois. On peut pas faire deux.\\Il faudrait quelque chose qui fait 3,5 et y a pas.};
\node[anatext] (c4m15) at (692,776) {On peut imaginer que pour faire en deux manches\\il faudrait deux événements à 3,5 points (ou la moitié de 7)};
\node[ttl] (c4u4) at (588,792) {4. Deuxième argument contre un\\minimum égal à deux.\\Construction d'une partie\\en deux manches.};
\node[djust, sz={60}{17}] (c4m16) at (699,802) {Qu'est-ce que vous avez remarqué ?\\Ça peut être fait en deux manches ?};
\node[docL, sz={63}{11}] (c4m17) at (698,819) {Parce que avec deux\\quelque fois, trois, c'est le maximum};
\node[qens, sz={72}{17}] (c4m18) at (699,837) {Donc même si on gagne à chaque fois trois\\On arrive pas encore à sept.};
\node[comW, sz={38}{11}] (c4m19) at (697,856) {On arrive à six};
\node[qens, sz={78}{17}] (c4m20) at (695,874) {Alors on est obligé de rajouter une troisième manche.};
\node[slP, sz={73}{11}] (c4m21) at (695,893) {Deux manches, si ça fait trois plus trois ça fait six,\\en une manche de plus tu fais, on est pas à sept};

% =================== COLUMN 5 ===================
\node[cmlbl] (cm6a) at (858,17) {CM6 - MAXIMUM};
\node[ttl] (c5t7) at (776,49) {7. Première conjecture justifiée\\par une partie imaginaire};
\node[dconjr, sz={57}{12}] (c5s7e) at (863,58) {Combien de manches au maximum};
\node[tapeC, sz={27}{11}] (c5s7t) at (862,78) {Sept};
\node[slL, sz={45}{13}] (c5s7s) at (863,93) {Si tu fais que des un points};
\node[ttl] (c5t8) at (776,118) {8. Argument contre la conjecture\\grâce à partie réelle};
\node[dconjrs, sz={88}{21}] (c5s8e) at (863,133) {Au bout de sept manches la partie est forcément terminée ?};
\node[comTd, sz={63}{10}] (c5s8c) at (862,151) {Aujourd'hui il fallait au moins huit manches};
\node[ttl] (c5t9) at (776,167) {9. Conjecture justifiée par\\partie imaginaire basée\\sur le réel};
\node[dconjr, sz={57}{13}] (c5s9e) at (859,176) {Alors quel est le nombre maximum ?};
\node[conj, sz={70}{15}] (c5s9g) at (859,195) {Si l'adversaire faisait tout le temps le contre\\Personne ne gagne pas des points, donc infini.};
\node[anatext] (c5s9x) at (859,211) {Maxime rappelle tout l'aspect réel};
\node[ttl] (c5t10) at (776,230) {10. Approfondissement\\Réel/imaginaire};
\node[comTd, sz={72}{12}] (c5s10a) at (869,237) {Mais il y a un gagnant parce qu'on marque toujours des points};
\node[comW, sz={72}{10}] (c5s10b) at (852,253) {Mais personne n'aura sept alors c'est pas fini};
\node[conjs, sz={104}{10}] (c5s10g) at (851,267) {On pourrait à l'infini parce qu'ils pourraient faire des matchs nuls très longtemps};
\node[cens, sz={117}{17}] (c5s10c) at (851,283) {C'était l'argument réel qui aussi été vécu par l'adversaire.\\La modélisation de la toujours, personne ne gagnera jamais.};
\node[cmlbl] (cm6b) at (856,337) {CM6 - MINIMUMCM6 - MINIMUM};
\node[ttl] (c5u1) at (776,352) {1. Recueil de\\conjectures};
\node[dconjr, sz={67}{17}] (c5m1) at (848,365) {Combien de manches sont nécessaires\\pour terminer une partie ?};
\node[qensd, sz={96}{17}] (c5m2) at (856,386) {J'ai dit trois, dix, six, douze ... beaucoup de trois};
\node[comTd, sz={44}{11}] (c5m3) at (854,403) {T'as par exemple sept points\\mais pas pour tout toujours};
\node[ttl] (c5u2) at (776,418) {2. Reformulation de la\\question grâce aux\\parties réelles};
\node[qreal, sz={89}{21}] (c5m4) at (864,435) {Effectivement c'est un exemple de parties possible.\\On peut faire un nombre de manches énorme.\\Par exemple maximum combien de manches ?};
\node[tapeT, sz={26}{10}] (c5m5) at (852,457) {Un};
\node[qreal, sz={77}{16}] (c5m6) at (849,477) {Mais y a-t-il une partie avec moins de manches que ça\\? et ça pourrait faire un.};
\node[dconjrs, sz={94}{20}] (c5m7) at (852,502) {Mais là on n'est pas en train de voir ce qu'on avait fait.\\On voit ce qui pourrait se faire. Quel est le nombre minimum ?};
\node[ttl] (c5u3) at (776,525) {3. Argument contre\\une seule manche};
\node[dconjr, sz={80}{16}] (c5m8) at (856,534) {Par exemple, est-ce qu'en une manche c'est possible ?};
\node[slP, sz={91}{17}] (c5m9) at (857,556) {Non parce qu'on n'a pas gagné d'un coup sept points d'un coup.};
\node[ttl] (c5u4) at (776,578) {4. Construction d'une\\partie imaginaire\\pour justifier 3.};
\node[dconjr, sz={79}{18}] (c5m10) at (858,590) {Alors quel est le nombre minimum de manches ?};
\node[tapeC, sz={21}{13}] (c5m11t) at (857,613) {Trois};
\node[slL, sz={92}{20}] (c5m11s) at (858,633) {Parce que si on a le maximum de points deux fois,\\ça fait six. Et après il est obligé d'en refaire une\\parce que ça fait pas sept points. Ça fait trois manches.};
\node[ttl] (c5u5) at (776,656) {5. Explication sur le 6 point.};
\node[qensd, sz={54}{13}] (c5m12) at (875,666) {Qui peut s'expliquer ?};
\node[docL, sz={54}{10}] (c5m13) at (875,680) {Si tu fais deux fois plus trois et plus un};
\node[slP, sz={46}{13}] (c5m14) at (877,693) {En deux manches c'est pas sept\\il faut en rajouter un.};
\node[ttl] (c5u6) at (776,710) {6. Travail sur la possibilité};
\node[qapp, sz={78}{17}] (c5m15) at (876,719) {Alors est-ce que vous pensez que c'est possible\\de gagner six points en deux manches ?};
\node[comW, sz={33}{10}] (c5m16) at (875,740) {Oui, c'est possible};
\node[qreal, sz={85}{14}] (c5m17) at (874,758) {C'est arrivé une fois dans les parties que\\vous avez fait mais c'est possible.};

% =================== LEGEND ===================
\node[font=\fontsize{5}{6}\selectfont\bfseries, text=black] (leg) at (1041,87) {LEGENDE};
\node[tops, sz={45}{17}, font=\txs] (l1) at (1041,135) {Travail précédent};
\node[qens, sz={47}{13}] (l2) at (1045,162) {Question enseignant};
\node[qreal, sz={48}{14}] (l3) at (1046,178) {Question sur une partie réelle};
\node[dconj, sz={48}{17}] (l4) at (1045,197) {Demande de conjecture};
\node[dconjr, sz={48}{17}] (l5) at (1044,217) {Demande de conjecture\\(à partir de parties réelles)};
\node[djust, sz={49}{15}] (l6) at (1045,236) {Demande de justification};
\node[dex, sz={46}{13}] (l7) at (1044,253) {Demande d'exemple};
\node[qapp, sz={48}{17}] (l8) at (1043,272) {Question Approfondissement};
\node[cens, sz={53}{12}] (l9) at (1042,288) {Commentaire enseignant};
\node[tapeL, dts, sz={37}{11}] (l10) at (1043,306) {Réponse extraite\\d'une partie imaginaire};
\node[docT, sz={37}{11}] (l11) at (1043,318) {Réponse extraite\\d'une Partie réelle};
\node[tapeC, sz={35}{13}] (l12) at (1043,335) {Conjecture non justifiée};
\node[slPd, sz={35}{12}] (l13) at (1043,351) {Conjecture incorrecte};
\node[conj, sz={35}{13}, font=\txs\bfseries] (l14) at (1043,367) {Conjecture};
\node[comWd, sz={37}{13}] (l15) at (1043,384) {Commentaire};
\node[comTd, sz={37}{11}] (l16) at (1040,398) {Commentaire\\(sur une partie réelle)};
\node[bx, draw=cbl, dts, rounded rectangle, text=cbl, sz={38}{13}] (l17) at (1043,429) {Commentaires\\analyse};

% =================== COLUMN 6 (CM5) ===================
\node[cmlbl] (cm5) at (1043,540) {CM5 - MINIMUM};
\node[ttl] (c6t1) at (965,574) {1. Construction d'une\\partie imaginaire};
\node[dconjr, sz={78}{18}] (c6s1e) at (1050,586) {Si on veut finir le plus vite possible\\combien il faut de manches pour terminer une partie ?};
\node[docL, sz={26}{11}] (c6s1d) at (1055,609) {Trois};
\node[djusts, sz={38}{17}] (c6s1q) at (1056,628) {Explique-moi};
\node[docL, sz={42}{17}] (c6s1r) at (1054,646) {On peut gagner d'abord\\trois points et regagner trois\\et encore trois};
\node[ttl] (c6t2) at (965,662) {2. Construction de parties\\équivalentes};
\node[qappd, sz={73}{15}] (c6s2e) at (1053,678) {Est-ce qu'on est obligé de gagner trois points\\à la dernière manche pour gagner ?};
\node[docL, sz={42}{10}] (c6s2a) at (1016,702) {On peut en gagner deux};
\node[docL, sz={42}{10}] (c6s2b) at (1061,702) {On peut en gagner un};
\node[cens, sz={38}{10}] (c6s2c) at (1014,715) {Ça fait huit points};
\node[qens, sz={37}{11}] (c6s2d) at (1060,718) {Ça fait combien ?};
\node[comW, sz={23}{12}] (c6s2f) at (1057,731) {Sept};
\node[qens, sz={98}{17}] (c6s2g) at (1056,752) {C'est-à-dire que la personne qui a six points, il lui suffit\\de gagner au minimum un point pour gagner.\\Quelle que soit la manière de faire.};

% =================== CONNECTORS ===================
\begin{pgfonlayer}{mid}
% gray cross links
\draw[gc] (c1top.east) .. controls (185,0) and (200,32) .. (c2top.west);
\draw[gc] (c2top.east) .. controls (370,0) and (392,32) .. (c3top1.west);
\draw[gc] (c3top1.east) .. controls (560,0) and (582,32) .. (c4top1.west);
\draw[gc] (c1r4.east) to[out=20,in=185] (c2s1n.west);
\draw[gc] (c1s2q.east) to[out=-10,in=185] (c2s4e.west);
\draw[gc] (c1s4e.east) to[out=0,in=200] (c2s5e.west);
\draw[gc] (c1s5a.east) to[out=25,in=190] (c2s6e.west);
\draw[gc] (c1s5q.east) to[out=30,in=185] (c2s6a.west);
\draw[gc] (c2s1e.east) to[out=10,in=180] (c3s3t.west);
\draw[gc] (c2s3g.east) to[out=0,in=180] (c3s4e.west);
\draw[gc] (c2s4k.east) to[out=0,in=180] (c3s7e.west);
\draw[gc] (c2s5e.east) to[out=0,in=180] (c3s8e.west);
\draw[gc] (c2s6g.east) to[out=0,in=180] (c3s9e.west);
\draw[gc] (c2s7d.east) to[out=0,in=180] (c3s10d.west);
\draw[gc] (c2s7q.east) to[out=0,in=180] (c3s10q.west);
\draw[gc] (c2s7o.east) to[out=0,in=180] (c3s10o.west);
% col1
\draw[conn] (c1top) -- (c1q1);
\draw[arr] (c1q1) -- (c1q2);
\draw[arr] (c1q1) -- (c1q3);
\draw[arr] (c1q1) -- (c1q4);
\draw[conn] (c1q2) -- (c1r2);
\draw[conn] (c1q3) -- (c1r3);
\draw[conn] (c1q4) -- (c1r4);
\draw[arr] (c1r4) -- (c1s2q);
\foreach \n in {c1a,c1b,c1c,c1d} \draw[arr] (c1s2q) -- (\n);
\draw[conn] (c1s2q) -- (c1e);
\draw[arr] (c1b) -- (c1s3q);
\draw[conn] (c1s3q) -- (c1s3d);
\draw[conn] (c1s3d) -- (c1s3c);
\draw[arr] (c1s3c) -- (c1s4t);
\draw[conn] (c1s4t) -- (c1s4s);
\draw[conn] (c1s4g) -- (c1s4o);
\draw[arr] (c1s4s) -- (c1s4e);
\draw[arr] (c1s4o) -- (c1s4e);
\draw[arr] (c1s4g) -- (c1s4e);
\draw[arr] (c1s4e) -- (c1s5a);
\draw[conn] (c1s5a) -- (c1s5q);
\draw[conn] (c1s5q) -- (c1s5l);
\draw[conn] (c1s5q) -- (c1s5r);
\draw[conn] (c1s5r) -- (c1s5b);
\draw[conn] (c1s5b) -- (c1s5d);
\draw[arr] (c1s5d) -- (c1s6q);
\draw[conn] (c1s6q) -- (c1s6e);
\draw[conn] (c1s6e) -- (c1s6o);
\draw[conn] (c1s6o) -- (c1s6j);
\draw[conn] (c1s7a) -- (c1s7b);
\draw[conn] (c1s7b) -- (c1s7c);
\draw[conn] (c1s7c) -- (c1s7d);
\draw[conn] (c1s7d) -- (c1s7e);
\draw[conn] (c1s7e) -- (c1s7f);
\draw[arr] (c1s7f) -- (c1s8t);
\draw[conn] (c1s8t) -- (c1s8a);
\draw[conn] (c1s8t) -- (c1s8b);
\draw[conn] (c1s8t) -- (c1s8c);
% col2
\draw[conn] (c2top) -- (c2s1e);
\draw[conn] (c2s1e) -- (c2s1n);
\draw[arr] (c2s1e) -- (c2s2d);
\draw[arr] (c2s1e) -- (c2s3t);
\draw[conn] (c2s3t) -- (c2s3q);
\draw[arr] (c2s3g) -- (c2s4e);
\draw[conn] (c2s4e) -- (c2s4n);
\foreach \n in {c2s4a,c2s4b,c2s4c,c2s4d,c2s4e1,c2s4f,c2s4i,c2s4j,c2s4k} \draw[conn] (c2s4e) -- (\n);
\draw[conn, dashed] (c2s4a) to[out=-100,in=150] (c2s4l);
\draw[conn, dashed] (c2s4c) to[out=-80,in=10] (c2s4l);
\draw[arr] (c2s4k) -- (c2s5e);
\draw[conn] (c2s5e) -- (c2s5a);
\draw[conn] (c2s5e) -- (c2s5b);
\draw[conn] (c2s5e) -- (c2s5c);
\draw[conn] (c2s5a) -- (c2s5g);
\draw[conn] (c2s5b) -- (c2s5h);
\draw[conn] (c2s5c) -- (c2s5h);
\draw[conn] (c2s5d) -- (c2s5h);
\draw[conn] (c2s5f) -- (c2s5h);
\draw[arr] (c2s5h) -- (c2s6e);
\draw[conn] (c2s6e) -- (c2s6a);
\draw[conn] (c2s6e) -- (c2s6b);
\draw[conn] (c2s6a) -- (c2s7e);
\draw[conn] (c2s6b) -- (c2s7e);
\draw[conn] (c2s7e) -- (c2s7d);
\draw[conn] (c2s7d) -- (c2s7q);
\draw[conn] (c2s7q) -- (c2s7o);
\draw[conn] (c2s8e) -- (c2s8a);
\draw[conn] (c2s8e) -- (c2s8b);
\draw[conn] (c2s8a) -- (c2s8c);
\draw[conn] (c2s8b) -- (c2s8c);
\draw[conn] (c2s8c) -- (c2s9t);
\draw[arr] (c2s8c) -- (c2s10a);
\draw[conn] (c2s8c) -- (c2s10b);
\draw[arr] (c2s10a) -- (c2s11e);
\draw[conn] (c2s11e) -- (c2s11d);
\draw[arr] (c2s11d) -- (c2s12e);
\draw[conn] (c2s12e) -- (c2s12g);
\draw[conn] (c2s12g) -- (c2s13e);
\draw[conn] (c2s13e) -- (c2s13a);
\draw[conn] (c2s13e) -- (c2s13b);
\draw[conn] (c2s13a) -- (c2s13c);
\draw[conn] (c2s13b) -- (c2s13c);
% col3
\draw[conn] (c3top1) -- (c3top2);
\draw[conn] (c3top2) -- (c3s3e);
\draw[conn] (c3s3e) -- (c3s3t);
\draw[conn] (c3s3t) -- (c3s4e);
\draw[conn] (c3s4e) -- (c3s4a);
\draw[conn] (c3s4e) -- (c3s4b);
\draw[conn] (c3s4e) -- (c3s5s);
\draw[conn] (c3s5s) -- (c3s5q);
\draw[conn] (c3s5q) -- (c3s5t);
\draw[conn] (c3s5t) -- (c3s5c);
\draw[arr] (c3s5c) -- (c3s6e);
\draw[conn] (c3s6e) -- (c3s6t);
\draw[arr] (c3s6t) -- (c3s7e);
\draw[conn] (c3s7e) -- (c3s7g);
\draw[conn] (c3s7e) -- (c3s7t);
\draw[conn] (c3s7t) -- (c3s8e);
\draw[conn] (c3s8e) -- (c3s8c);
\draw[arr] (c3s8c) -- (c3s9e);
\draw[conn] (c3s9e) -- (c3s9s);
\draw[conn] (c3s9s) -- (c3s9y);
\draw[conn] (c3s9y) -- (c3s9t);
\draw[conn] (c3s9t) -- (c3s9c);
\draw[conn] (c3s9c) -- (c3s10d);
\draw[conn] (c3s10d) -- (c3s10q);
\draw[conn] (c3s10q) -- (c3s10o);
\draw[conn] (c3s10o) -- (c3s10c);
\draw[conn] (c3c1) -- (c3c2);
\draw[conn] (c3c2) -- (c3c3);
\draw[arr] (c3c3) -- (c3m1);
\draw[conn] (c3m1) -- (c3m2);
\draw[conn] (c3m2) -- (c3m3);
\draw[conn] (c3m3) -- (c3m4);
\draw[conn] (c3m3) -- (c3m5);
\draw[conn] (c3m4) -- (c3m7);
\draw[conn] (c3m7) -- (c3m8);
% col4
\draw[conn] (c4top1) -- (c4top2);
\draw[conn] (c4top2) -- (c4s5t);
\draw[conn] (c4s5t) -- (c4s5e);
\draw[conn] (c4s5e) -- (c4s5o);
\draw[conn] (c4s5e) -- (c4s5n);
\draw[conn] (c4s5o) -- (c4j);
\draw[conn] (c4s5n) -- (c4j);
\draw[conn] (c4j) -- (c4s6e);
\draw[conn] (c4s6e) -- (c4s6t);
\draw[conn] (c4s6t) -- (c4s6c);
\draw[conn] (c4s6c) -- (c4s7e);
\draw[conn] (c4s7e) -- (c4s7n);
\draw[conn] (c4s7e) -- (c4s9c);
\draw[conn] (c4s7n) -- (c4s7q);
\draw[conn] (c4s7q) -- (c4s7d);
\draw[conn] (c4s7d) -- (c4s7s);
\draw[conn] (c4s7s) -- (c4s7c);
\draw[draw=cbl, line width=0.9pt, -{Stealth[length=3.5pt]}] (c4s7s.west) -- ++(-22,0) |- (c4s7b.west);
\draw[conn] (c4s8s) -- (c4s7b);
\draw[conn] (c4s9c) -- (c4s9t);
\draw[conn] (c4s9t) -- (c4s9d);
\draw[conn] (c4s9d) -- (c4s9e);
\draw[arr] (c4s9e) -- (c4s10t);
\draw[conn] (c4s10t) -- (c4s10e);
\draw[conn] (c4s10e) -- (c4s10d);
\draw[conn] (c4s10d) -- (c4s10f);
\draw[conn] (c4m1) -- (c4m2);
\draw[conn] (c4m2) -- (c4m3);
\draw[conn] (c4m3) -- (c4m4);
\draw[conn] (c4m3) -- (c4m9);
\draw[conn] (c4m4) -- (c4m5);
\draw[conn] (c4m5) -- (c4m6);
\draw[conn] (c4m6) -- (c4m7);
\draw[conn] (c4m9) -- (c4m10);
\draw[arr] (c4m10) -- (c4m11);
\draw[conn] (c4m11) -- (c4m12);
\draw[conn] (c4m12) -- (c4m13);
\draw[conn] (c4m13) -- (c4m14);
\draw[arr] (c4m14) -- (c4m16);
\draw[conn] (c4m16) -- (c4m17);
\draw[conn] (c4m17) -- (c4m18);
\draw[conn] (c4m18) -- (c4m19);
\draw[conn] (c4m19) -- (c4m20);
\draw[conn] (c4m20) -- (c4m21);
% col5
\draw[conn] (c5top) -- (c5s7e);
\draw[conn] (c5s7e) -- (c5s7g);
\draw[conn] (c5s7t) -- (c5s7s);
\draw[conn] (c5s7g) -- (c5s8e);
\draw[conn] (c5s8e) -- (c5s8c);
\draw[conn] (c5s8c) -- (c5s9e);
\draw[conn] (c5s9e) -- (c5s9g);
\draw[conn] (c5s9g) -- (c5s10a);
\draw[conn] (c5s10a) -- (c5s10b);
\draw[conn] (c5s10b) -- (c5s10g);
\draw[conn] (c5s10g) -- (c5s10c);
\draw[conn] (c5m1) -- (c5m2);
\draw[conn] (c5m2) -- (c5m3);
\draw[conn] (c5m3) -- (c5m4);
\draw[conn] (c5m4) -- (c5m5);
\draw[conn] (c5m5) -- (c5m6);
\draw[conn] (c5m6) -- (c5m7);
\draw[arr] (c5m7) -- (c5m8);
\draw[conn] (c5m8) -- (c5m9);
\draw[arr] (c5m9) -- (c5m10);
\draw[conn] (c5m10) -- (c5m11t);
\draw[conn] (c5m11t) -- (c5m11s);
\draw[conn] (c5m11g) -- (c5m12);
\draw[conn] (c5m12) -- (c5m13);
\draw[conn] (c5m13) -- (c5m14);
\draw[conn] (c5m14) -- (c5m15);
\draw[conn] (c5m15) -- (c5m16);
\draw[conn] (c5m16) -- (c5m17);
% col6
\draw[conn] (c6top) -- (c6s1e);
\draw[conn] (c6s1e) -- (c6s1d);
\draw[conn] (c6s1d) -- (c6s1q);
\draw[conn] (c6s1q) -- (c6s1r);
\draw[conn] (c6s1r) -- (c6s2e);
\draw[conn] (c6s2e) -- (c6s2a);
\draw[conn] (c6s2e) -- (c6s2b);
\draw[conn] (c6s2a) -- (c6s2c);
\draw[conn] (c6s2b) -- (c6s2d);
\draw[conn] (c6s2d) -- (c6s2f);
\draw[conn] (c6s2f) -- (c6s2g);
\end{pgfonlayer}
\end{tikzpicture}
\end{document}
